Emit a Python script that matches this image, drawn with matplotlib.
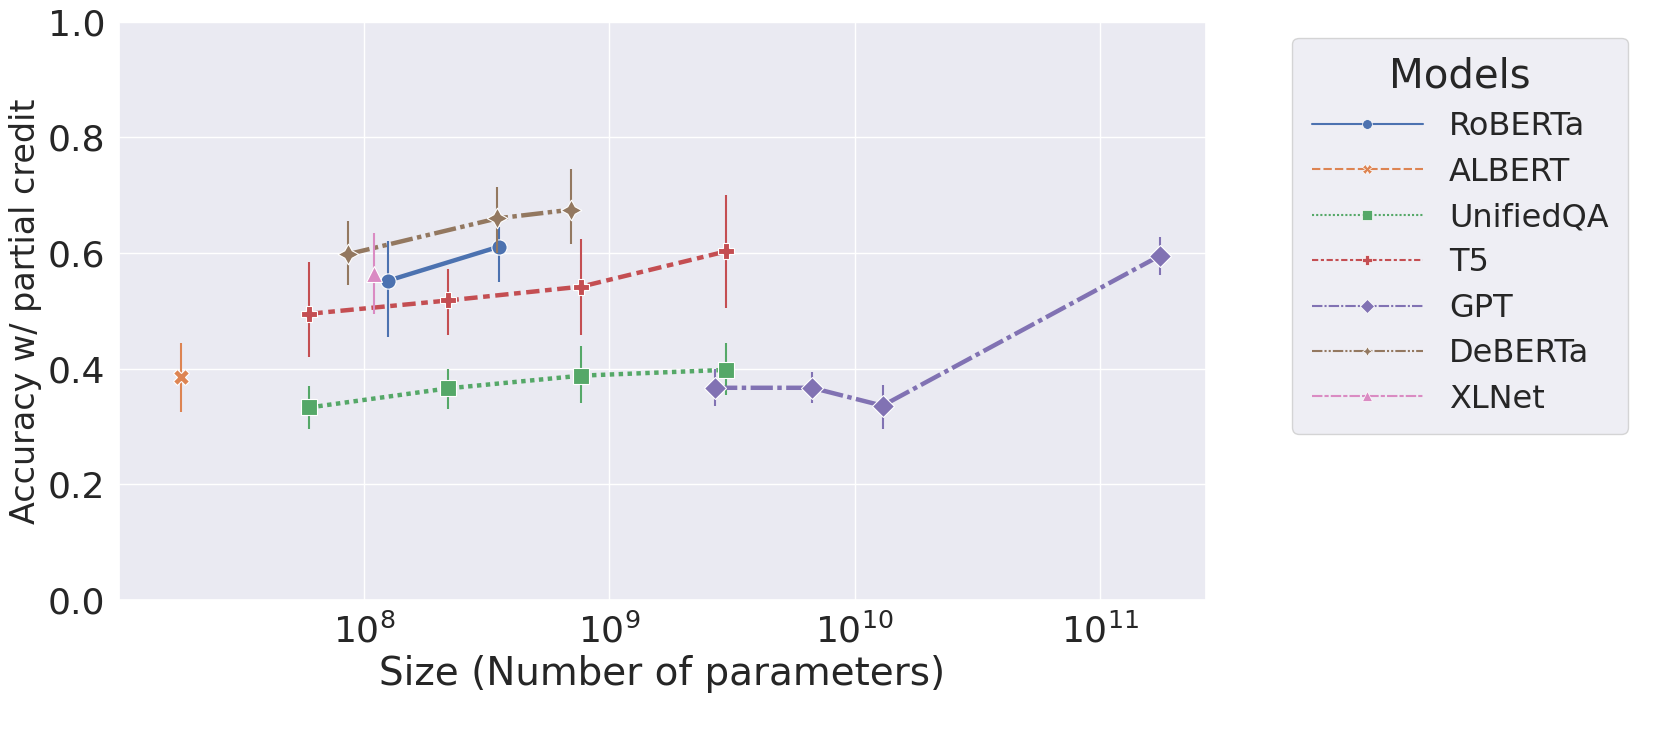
import matplotlib
matplotlib.use("Agg")
import matplotlib.pyplot as plt
from matplotlib.lines import Line2D
import seaborn as sns

sns.set_theme(style="darkgrid")
plt.rcParams['font.family'] = ['DejaVu Sans']

models = ["RoBERTa", "ALBERT", "UnifiedQA", "T5", "GPT", "DeBERTa", "XLNet"]
sizes = {
    "RoBERTa": [1.25e8, 3.55e8],
    "ALBERT": [1.8e7],
    "UnifiedQA": [6.0e7, 2.2e8, 7.7e8, 3.0e9],
    "T5": [6.0e7, 2.2e8, 7.7e8, 3.0e9],
    "GPT": [2.7e9, 6.7e9, 1.3e10, 1.75e11],
    "DeBERTa": [8.6e7, 3.5e8, 7.0e8],
    "XLNet": [1.1e8],
}
acc = {
    "RoBERTa": [0.552, 0.611],
    "ALBERT": [0.385],
    "UnifiedQA": [0.333, 0.366, 0.388, 0.398],
    "T5": [0.495, 0.518, 0.542, 0.603],
    "GPT": [0.367, 0.367, 0.336, 0.595],
    "DeBERTa": [0.598, 0.660, 0.675],
    "XLNet": [0.563],
}
err_lo = {
    "RoBERTa": [0.455, 0.550],
    "ALBERT": [0.325],
    "UnifiedQA": [0.295, 0.330, 0.340, 0.355],
    "T5": [0.420, 0.458, 0.458, 0.505],
    "GPT": [0.335, 0.340, 0.295, 0.562],
    "DeBERTa": [0.545, 0.600, 0.615],
    "XLNet": [0.495],
}
err_hi = {
    "RoBERTa": [0.620, 0.645],
    "ALBERT": [0.445],
    "UnifiedQA": [0.370, 0.400, 0.440, 0.445],
    "T5": [0.585, 0.572, 0.625, 0.700],
    "GPT": [0.400, 0.395, 0.372, 0.628],
    "DeBERTa": [0.655, 0.715, 0.745],
    "XLNet": [0.635],
}

colors = sns.color_palette("deep", 7)
markers = ["o", "X", "s", "P", "D", (4, 1, 0), "^"]
dashes = [(None, None), (4, 1.5), (1, 1), (3, 1.25, 1.5, 1.25), (5, 1, 1, 1),
          (5, 1, 1, 1, 1, 1), (5, 1, 2, 1)]

fig, ax = plt.subplots(figsize=(16.7, 7.5), dpi=100)
handles = []
for m, c, mk, d in zip(models, colors, markers, dashes):
    x, y = sizes[m], acc[m]
    ax.vlines(x, err_lo[m], err_hi[m], color=c, lw=1.5)
    ln, = ax.plot(x, y, color=c, lw=3.2, marker=mk, ms=11 if mk != (4, 1, 0) else 15,
                  markeredgecolor="white", markeredgewidth=0.8)
    if d[0] is not None:
        ln.set_dashes(d)
    h = Line2D([], [], color=c, lw=1.5, marker=mk, ms=7, markeredgecolor="white",
               markeredgewidth=0.5)
    if d[0] is not None:
        h.set_dashes(d)
    handles.append(h)

ax.set_xscale("log")
ax.set_xlim(1e7, 2.7e11)
ax.set_ylim(0, 1.0)
ax.set_xticks([1e8, 1e9, 1e10, 1e11])
ax.minorticks_off()
ax.tick_params(labelsize=26)
ax.set_xlabel("Size (Number of parameters)", fontsize=28)
ax.set_ylabel("Accuracy w/ partial credit", fontsize=24)
leg = ax.legend(handles, models, title="Models", fontsize=23, title_fontsize=29,
                loc="upper left", bbox_to_anchor=(1.065, 1.0), borderpad=0.6,
                handlelength=3.5, labelspacing=0.45)
plt.subplots_adjust(left=0.071, right=0.722, top=0.971, bottom=0.2)
plt.savefig("out.png")
